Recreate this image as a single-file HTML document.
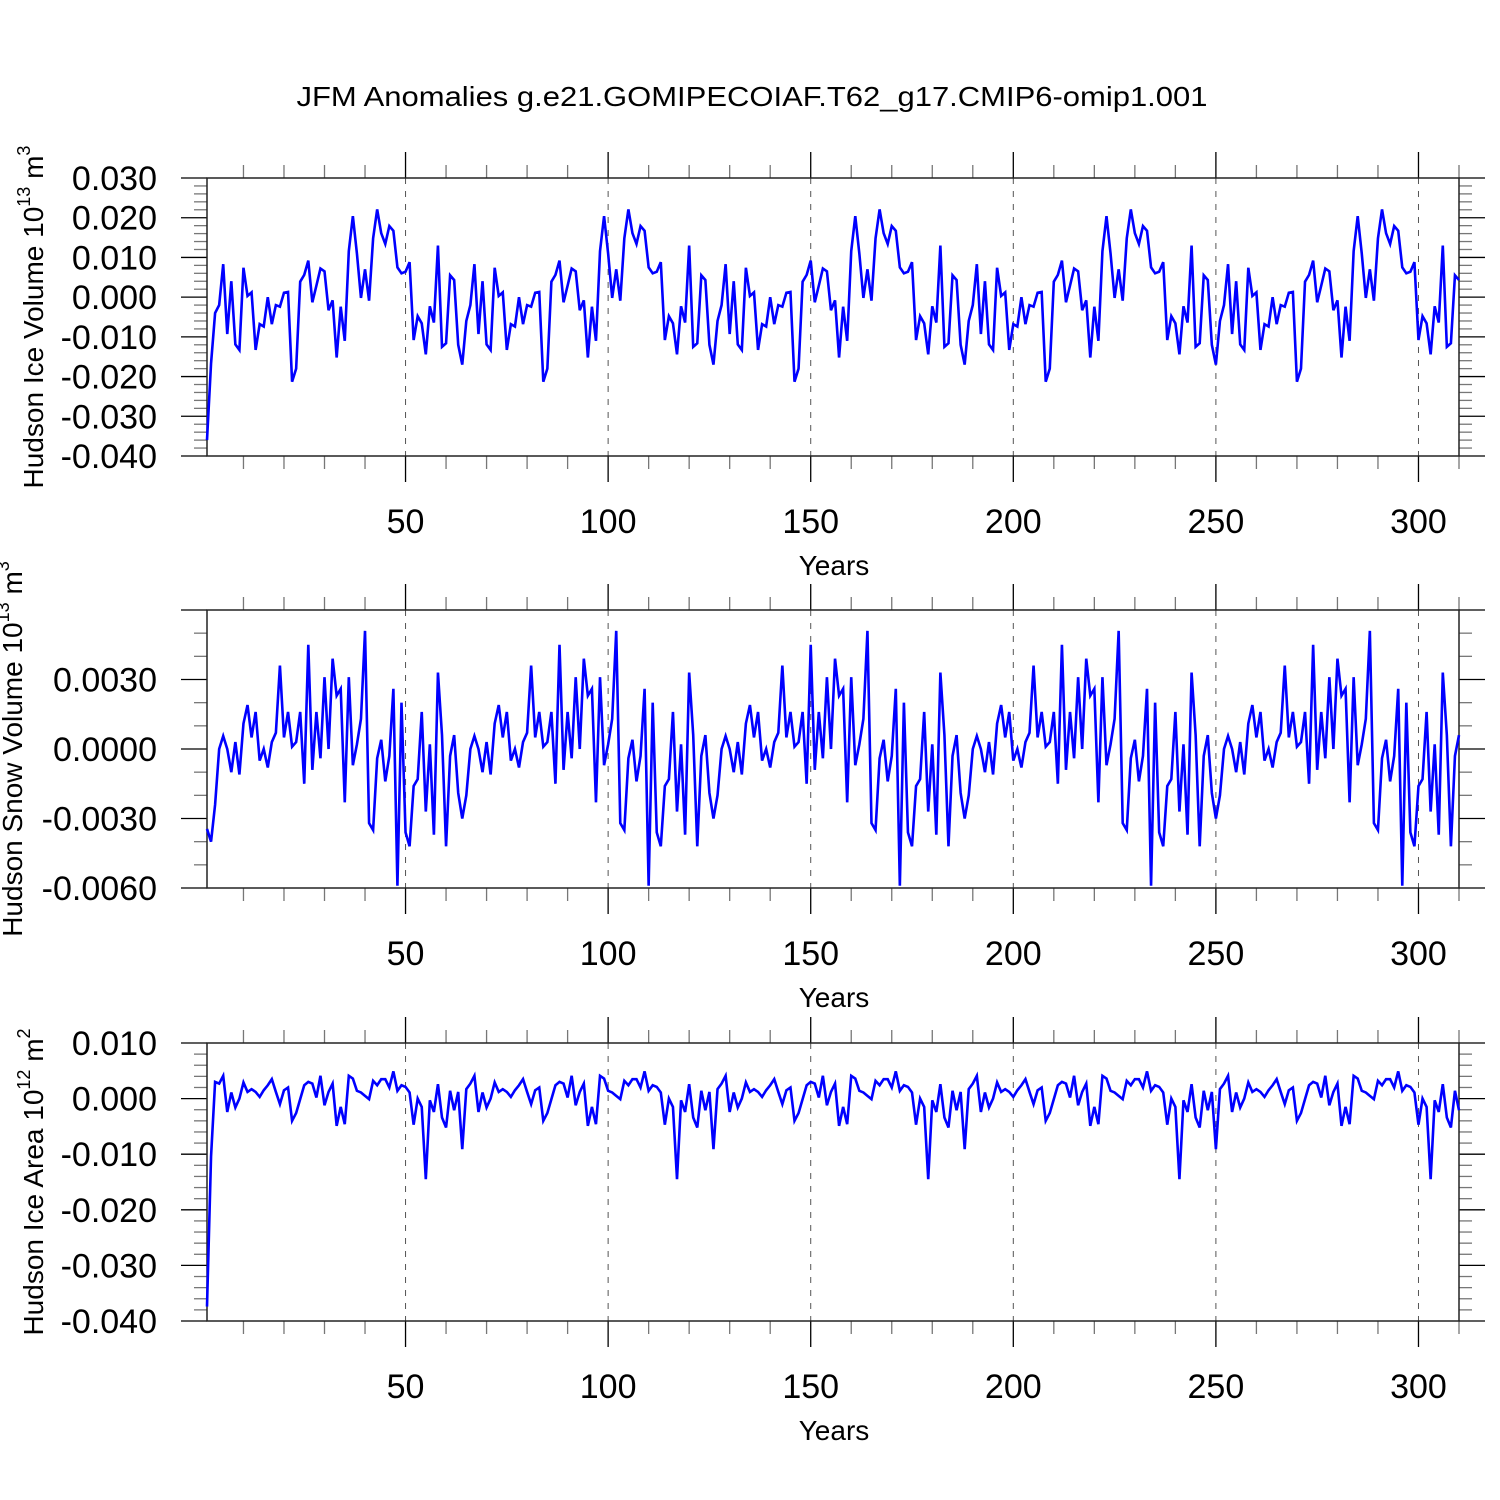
<!DOCTYPE html>
<html><head><meta charset="utf-8">
<style>
html,body{margin:0;padding:0;background:#fff;}
svg{display:block;font-family:"Liberation Sans",Arial,sans-serif;}
</style></head>
<body>
<svg id="chart" width="1500" height="1500" viewBox="0 0 1500 1500" xmlns="http://www.w3.org/2000/svg">
<rect x="0" y="0" width="1500" height="1500" fill="#fff"/>
<text x="752" y="106" font-size="28" text-anchor="middle" textLength="911" lengthAdjust="spacingAndGlyphs">JFM Anomalies g.e21.GOMIPECOIAF.T62_g17.CMIP6-omip1.001</text>
</svg>
<script>
// ---- data (62-year forcing cycle, first cycle includes spin-up years) ----
const xTickLabels = [50, 100, 150, 200, 250, 300];
const iceVolSpinup = [-0.036,-0.0167,-0.004,-0.002,0.0083,-0.0093,0.004,-0.0119,-0.0133,0.0074,0.0003,0.0012,-0.0133,-0.0068,-0.0074,0.0,-0.0068,-0.002,-0.0024,0.0011,0.0013,-0.0213,-0.018,0.0039,0.0056,0.0092,-0.0013,0.0029,0.0072,0.0065,-0.0033,-0.0008,-0.0152,-0.0024,-0.011,0.0116,0.0204,0.011,-0.0002,0.007,-0.0009,0.0148,0.0221,0.0161,0.0134,0.0179,0.0167,0.0075,0.006,0.0064,0.0088,-0.0108,-0.0048,-0.0066,-0.0144,-0.0023,-0.0064,0.013,-0.0125,-0.0116,0.0055,0.0043];
const iceVolCycle = [-0.012,-0.017,-0.006,-0.002,0.0083,-0.0093,0.004,-0.0119,-0.0133,0.0074,0.0003,0.0012,-0.0133,-0.0068,-0.0074,0.0,-0.0068,-0.002,-0.0024,0.0011,0.0013,-0.0213,-0.018,0.0039,0.0056,0.0092,-0.0013,0.0029,0.0072,0.0065,-0.0033,-0.0008,-0.0152,-0.0024,-0.011,0.0116,0.0204,0.011,-0.0002,0.007,-0.0009,0.0148,0.0221,0.0161,0.0134,0.0179,0.0167,0.0075,0.006,0.0064,0.0088,-0.0108,-0.0048,-0.0066,-0.0144,-0.0023,-0.0064,0.013,-0.0125,-0.0116,0.0055,0.0043];
const snowVolSpinup = [-0.00345,-0.004,-0.0024,0.0,0.00056,0.0,-0.001,0.0003,-0.0011,0.0011,0.0019,0.0005,0.0016,-0.0005,0.0,-0.0008,0.0003,0.0007,0.0036,0.0005,0.0016,0.0001,0.0003,0.0016,-0.0015,0.0045,-0.0009,0.0016,-0.0004,0.0031,0.0,0.0039,0.0023,0.0026,-0.0023,0.0031,-0.0007,0.0002,0.0013,0.0051,-0.0032,-0.0035,-0.0004,0.0004,-0.0014,-0.0003,0.0026,-0.0059,0.002,-0.0036,-0.0042,-0.0016,-0.0013,0.0016,-0.0027,0.0002,-0.0037,0.0033,0.0006,-0.0042,-0.0003,0.0006];
const snowVolCycle = [-0.0019,-0.003,-0.002,0.0,0.00056,0.0,-0.001,0.0003,-0.0011,0.0011,0.0019,0.0005,0.0016,-0.0005,0.0,-0.0008,0.0003,0.0007,0.0036,0.0005,0.0016,0.0001,0.0003,0.0016,-0.0015,0.0045,-0.0009,0.0016,-0.0004,0.0031,0.0,0.0039,0.0023,0.0026,-0.0023,0.0031,-0.0007,0.0002,0.0013,0.0051,-0.0032,-0.0035,-0.0004,0.0004,-0.0014,-0.0003,0.0026,-0.0059,0.002,-0.0036,-0.0042,-0.0016,-0.0013,0.0016,-0.0027,0.0002,-0.0037,0.0033,0.0006,-0.0042,-0.0003,0.0006];
const iceAreaSpinup = [-0.0374,-0.0104,0.003,0.0027,0.0041,-0.0024,0.0011,-0.0016,0.0,0.0029,0.0012,0.0017,0.0012,0.0003,0.0015,0.0024,0.0035,0.0012,-0.001,0.0015,0.002,-0.004,-0.0026,-0.0001,0.0024,0.003,0.0027,0.0002,0.0041,-0.0012,0.0012,0.0027,-0.0049,-0.0015,-0.0046,0.0041,0.0036,0.0014,0.0011,0.0005,-0.0001,0.0032,0.0024,0.0035,0.0035,0.002,0.0049,0.0014,0.0024,0.0021,0.0011,-0.0047,0.0,-0.0015,-0.0145,-0.0003,-0.0024,0.0026,-0.0034,-0.0052,0.0014,-0.0021];
const iceAreaCycle = [0.0012,-0.0091,0.0017,0.0027,0.0041,-0.0024,0.0011,-0.0016,0.0,0.0029,0.0012,0.0017,0.0012,0.0003,0.0015,0.0024,0.0035,0.0012,-0.001,0.0015,0.002,-0.004,-0.0026,-0.0001,0.0024,0.003,0.0027,0.0002,0.0041,-0.0012,0.0012,0.0027,-0.0049,-0.0015,-0.0046,0.0041,0.0036,0.0014,0.0011,0.0005,-0.0001,0.0032,0.0024,0.0035,0.0035,0.002,0.0049,0.0014,0.0024,0.0021,0.0011,-0.0047,0.0,-0.0015,-0.0145,-0.0003,-0.0024,0.0026,-0.0034,-0.0052,0.0014,-0.0021];
const iceVolume = iceVolSpinup.concat(iceVolCycle, iceVolCycle, iceVolCycle, iceVolCycle);
const snowVolume = snowVolSpinup.concat(snowVolCycle, snowVolCycle, snowVolCycle, snowVolCycle);
const iceArea = iceAreaSpinup.concat(iceAreaCycle, iceAreaCycle, iceAreaCycle, iceAreaCycle);
const iceVolTickLabels = ["0.030","0.020","0.010","0.000","-0.010","-0.020","-0.030","-0.040"];
const snowVolTickLabels = ["0.0030","0.0000","-0.0030","-0.0060"];
const iceAreaTickLabels = ["0.010","0.000","-0.010","-0.020","-0.030","-0.040"];

const NS = "http://www.w3.org/2000/svg";
const svg = document.getElementById("chart");
const X0 = 207, X1 = 1459, YMIN = 1, YMAX = 310;
function xScale(yr){ return X0 + (yr - YMIN) * (X1 - X0) / (YMAX - YMIN); }
function mk(tag, attrs, parent){
  const e = document.createElementNS(NS, tag);
  for (const k in attrs) e.setAttribute(k, attrs[k]);
  (parent || svg).appendChild(e);
  return e;
}

function panel(opt){
  const g = mk("g", {});
  
  
  const top = opt.top, bot = opt.bot, vmin = opt.vmin, vmax = opt.vmax;
  const yScale = v => bot - (v - vmin) * (bot - top) / (vmax - vmin);
  xTickLabels.forEach(t => {
    const gl = mk("line", {x1:xScale(t), x2:xScale(t), y1:top, y2:bot, stroke:"#555", "stroke-width":1, "stroke-dasharray":"6,7"}, g);
    
    
  });
  for (let yr = 10; yr <= 310; yr += 10) {
    const major = yr % 50 === 0;
    const len = major ? 26 : 13;
    const c = major ? "#000" : "#777";
    const t1 = mk("line", {x1:xScale(yr), x2:xScale(yr), y1:top, y2:top - len, stroke:c, "stroke-width":1.3}, g);
    
    
    const t2 = mk("line", {x1:xScale(yr), x2:xScale(yr), y1:bot, y2:bot + len, stroke:c, "stroke-width":1.3}, g);
    
    
  }
  const nMinor = Math.round((vmax - vmin) / opt.minor);
  for (let i = 0; i <= nMinor; i++) {
    const v = vmin + i * opt.minor;
    const rel = (v - opt.majorBase) / opt.major;
    const major = Math.abs(rel - Math.round(rel)) < 1e-6;
    const len = major ? 26 : 13;
    const c = major ? "#000" : "#777";
    const y = yScale(v);
    const a = mk("line", {x1:X0, x2:X0 - len, y1:y, y2:y, stroke:c, "stroke-width":1.3}, g);
    
    
    const b = mk("line", {x1:X1, x2:X1 + len, y1:y, y2:y, stroke:c, "stroke-width":1.3}, g);
    
    
  }
  const fr = mk("rect", {x:X0, y:top, width:X1 - X0, height:bot - top, fill:"none", stroke:"#222", "stroke-width":1.5}, g);
  
  
  opt.labels.forEach(s => {
    const v = parseFloat(s);
    const t = mk("text", {x:157, y:yScale(v) + 12, "font-size":34, "text-anchor":"end"}, g);
    t.textContent = s;
    
    
  });
  xTickLabels.forEach(v => {
    const t = mk("text", {x:xScale(v), y:bot + 77, "font-size":34, "text-anchor":"middle"}, g);
    t.textContent = String(v);
    
    
  });
  const xt = mk("text", {x:834, y:bot + 119, "font-size":28, "text-anchor":"middle"}, g);
  xt.textContent = "Years";
  
  
  const yc = (top + bot) / 2;
  const yt = mk("text", {x:0, y:0, "font-size":28, "text-anchor":"middle", transform:"translate(" + opt.titleX + "," + yc + ") rotate(-90)"}, g);
  
  
  const s1 = mk("tspan", {}, yt); s1.textContent = opt.title + " 10";
  const s2 = mk("tspan", {dy:-13, "font-size":18}, yt); s2.textContent = opt.exp;
  const s3 = mk("tspan", {dy:13}, yt); s3.textContent = " m";
  const s4 = mk("tspan", {dy:-13, "font-size":18}, yt); s4.textContent = opt.mexp;
  const pts = opt.data.map((v, i) => xScale(i + 1).toFixed(2) + "," + yScale(v).toFixed(2)).join(" ");
  const pl = mk("polyline", {points:pts, fill:"none", stroke:"#0000ff", "stroke-width":2.6, "stroke-linejoin":"miter"}, g);
  
  
}

panel({name:"ice-volume", top:178, bot:456, vmin:-0.040, vmax:0.030, minor:0.002, major:0.010, majorBase:0, labels:iceVolTickLabels, data:iceVolume, title:"Hudson Ice Volume", exp:"13", mexp:"3", titleX:43});
panel({name:"snow-volume", top:610, bot:888, vmin:-0.006, vmax:0.006, minor:0.001, major:0.003, majorBase:0, labels:snowVolTickLabels, data:snowVolume, title:"Hudson Snow Volume", exp:"13", mexp:"3", titleX:22});
panel({name:"ice-area", top:1043, bot:1321, vmin:-0.040, vmax:0.010, minor:0.002, major:0.010, majorBase:0, labels:iceAreaTickLabels, data:iceArea, title:"Hudson Ice Area", exp:"12", mexp:"2", titleX:43});
</script>
</body></html>
